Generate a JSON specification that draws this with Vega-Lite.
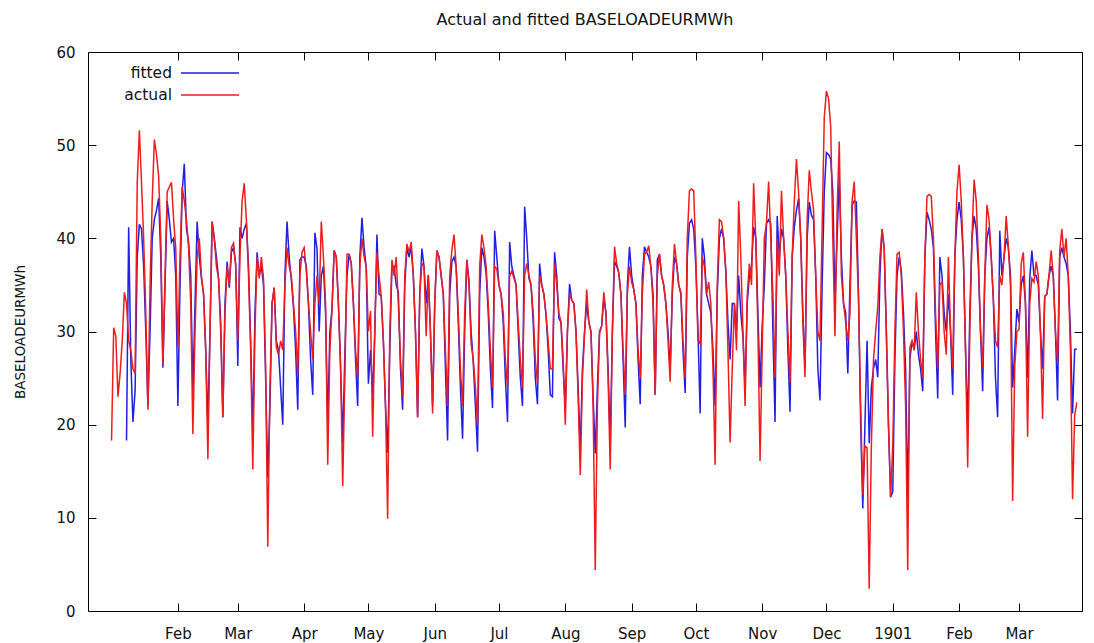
{
  "$schema": "https://vega.github.io/schema/vega-lite/v6.json",
  "width": 994,
  "height": 559,
  "autosize": {"type": "none"},
  "padding": {"left": 88, "top": 52, "right": 12, "bottom": 32},
  "background": "white",
  "config": {"view": {"stroke": "#000", "strokeWidth": 1}, "font": "DejaVu Sans"},
  "title": {"text": "Actual and fitted BASELOADEURMWh", "frame": "group", "anchor": "middle", "offset": 2, "baseline": "alphabetic", "fontSize": 16, "fontWeight": "normal", "font": "DejaVu Sans", "color": "#111"},
  "data": {"values": [
{"date":"1900-01-01","actual":18.3,"fitted":null},{"date":"1900-01-02","actual":30.4,"fitted":null},{"date":"1900-01-03","actual":29.5,"fitted":null},{"date":"1900-01-04","actual":23,"fitted":null},{"date":"1900-01-05","actual":25.5,"fitted":null},{"date":"1900-01-06","actual":29,"fitted":null},{"date":"1900-01-07","actual":34.2,"fitted":null},{"date":"1900-01-08","actual":33,"fitted":18.3},{"date":"1900-01-09","actual":29,"fitted":41.2},{"date":"1900-01-10","actual":28,"fitted":27},{"date":"1900-01-11","actual":26,"fitted":20.3},{"date":"1900-01-12","actual":25.5,"fitted":23.6},{"date":"1900-01-13","actual":46,"fitted":38},{"date":"1900-01-14","actual":51.6,"fitted":41.5},{"date":"1900-01-15","actual":46,"fitted":41},{"date":"1900-01-16","actual":40,"fitted":37},{"date":"1900-01-17","actual":32,"fitted":30},{"date":"1900-01-18","actual":21.6,"fitted":22},{"date":"1900-01-19","actual":35,"fitted":30},{"date":"1900-01-20","actual":44,"fitted":40},{"date":"1900-01-21","actual":50.6,"fitted":42},{"date":"1900-01-22","actual":49,"fitted":43},{"date":"1900-01-23","actual":46.7,"fitted":44.3},{"date":"1900-01-24","actual":40,"fitted":38},{"date":"1900-01-25","actual":26.5,"fitted":26.1},{"date":"1900-01-26","actual":36,"fitted":35},{"date":"1900-01-27","actual":45,"fitted":44},{"date":"1900-01-28","actual":45.5,"fitted":42},{"date":"1900-01-29","actual":46,"fitted":39.6},{"date":"1900-01-30","actual":42,"fitted":40},{"date":"1900-01-31","actual":38.9,"fitted":36},
{"date":"1900-02-01","actual":28.3,"fitted":22},{"date":"1900-02-02","actual":38,"fitted":35},{"date":"1900-02-03","actual":45.5,"fitted":45},{"date":"1900-02-04","actual":44,"fitted":48},{"date":"1900-02-05","actual":42,"fitted":41},{"date":"1900-02-06","actual":39,"fitted":39.6},{"date":"1900-02-07","actual":33,"fitted":36},{"date":"1900-02-08","actual":19,"fitted":23.5},{"date":"1900-02-09","actual":30,"fitted":33},{"date":"1900-02-10","actual":38,"fitted":41.8},{"date":"1900-02-11","actual":40,"fitted":38},{"date":"1900-02-12","actual":36,"fitted":35.7},{"date":"1900-02-13","actual":34,"fitted":34},{"date":"1900-02-14","actual":28,"fitted":28},{"date":"1900-02-15","actual":16.3,"fitted":20},{"date":"1900-02-16","actual":30,"fitted":30},{"date":"1900-02-17","actual":41.8,"fitted":41.8},{"date":"1900-02-18","actual":40,"fitted":40},{"date":"1900-02-19","actual":37,"fitted":38},{"date":"1900-02-20","actual":35.7,"fitted":35.7},{"date":"1900-02-21","actual":30,"fitted":31},{"date":"1900-02-22","actual":20.8,"fitted":20.8},{"date":"1900-02-23","actual":32,"fitted":33},{"date":"1900-02-24","actual":37,"fitted":37.5},{"date":"1900-02-25","actual":35,"fitted":34.7},{"date":"1900-02-26","actual":39,"fitted":38.5},{"date":"1900-02-27","actual":39.5,"fitted":39},{"date":"1900-02-28","actual":37,"fitted":37.3},
{"date":"1900-03-01","actual":29,"fitted":26.3},{"date":"1900-03-02","actual":38,"fitted":41.2},{"date":"1900-03-03","actual":44,"fitted":40},{"date":"1900-03-04","actual":45.9,"fitted":41},{"date":"1900-03-05","actual":42,"fitted":41.6},{"date":"1900-03-06","actual":36,"fitted":37},{"date":"1900-03-07","actual":28,"fitted":29},{"date":"1900-03-08","actual":15.2,"fitted":19},{"date":"1900-03-09","actual":30,"fitted":32},{"date":"1900-03-10","actual":38,"fitted":38.5},{"date":"1900-03-11","actual":35.7,"fitted":36},{"date":"1900-03-12","actual":38,"fitted":37},{"date":"1900-03-13","actual":35.7,"fitted":35},{"date":"1900-03-14","actual":26,"fitted":25},{"date":"1900-03-15","actual":6.9,"fitted":14.3},{"date":"1900-03-16","actual":24,"fitted":22},{"date":"1900-03-17","actual":33,"fitted":33},{"date":"1900-03-18","actual":34.7,"fitted":34.7},{"date":"1900-03-19","actual":28.3,"fitted":29},{"date":"1900-03-20","actual":27.5,"fitted":28},{"date":"1900-03-21","actual":29,"fitted":24},{"date":"1900-03-22","actual":28,"fitted":20},{"date":"1900-03-23","actual":35,"fitted":36},{"date":"1900-03-24","actual":39,"fitted":41.8},{"date":"1900-03-25","actual":37,"fitted":38},{"date":"1900-03-26","actual":36,"fitted":35.5},{"date":"1900-03-27","actual":33,"fitted":32.6},{"date":"1900-03-28","actual":30,"fitted":28},{"date":"1900-03-29","actual":25.5,"fitted":21.6},{"date":"1900-03-30","actual":36,"fitted":37.7},{"date":"1900-03-31","actual":38.5,"fitted":38},
{"date":"1900-04-01","actual":39,"fitted":38},{"date":"1900-04-02","actual":36.5,"fitted":37},{"date":"1900-04-03","actual":33,"fitted":33},{"date":"1900-04-04","actual":30,"fitted":27},{"date":"1900-04-05","actual":27,"fitted":23.2},{"date":"1900-04-06","actual":33,"fitted":40.6},{"date":"1900-04-07","actual":36,"fitted":38.9},{"date":"1900-04-08","actual":33,"fitted":30},{"date":"1900-04-09","actual":41.8,"fitted":36},{"date":"1900-04-10","actual":38,"fitted":37},{"date":"1900-04-11","actual":33,"fitted":32},{"date":"1900-04-12","actual":15.7,"fitted":20},{"date":"1900-04-13","actual":28,"fitted":30},{"date":"1900-04-14","actual":32.4,"fitted":32.4},{"date":"1900-04-15","actual":38.7,"fitted":38.7},{"date":"1900-04-16","actual":38,"fitted":38},{"date":"1900-04-17","actual":33,"fitted":33},{"date":"1900-04-18","actual":26.3,"fitted":26.3},{"date":"1900-04-19","actual":13.4,"fitted":18.1},{"date":"1900-04-20","actual":25,"fitted":27.5},{"date":"1900-04-21","actual":38.3,"fitted":36},{"date":"1900-04-22","actual":38.3,"fitted":38.3},{"date":"1900-04-23","actual":37.3,"fitted":37.3},{"date":"1900-04-24","actual":33,"fitted":33},{"date":"1900-04-25","actual":28,"fitted":27},{"date":"1900-04-26","actual":25,"fitted":22},{"date":"1900-04-27","actual":37,"fitted":38},{"date":"1900-04-28","actual":40,"fitted":42.2},{"date":"1900-04-29","actual":38,"fitted":39},{"date":"1900-04-30","actual":36.9,"fitted":36.9},
{"date":"1900-05-01","actual":30,"fitted":24.4},{"date":"1900-05-02","actual":32.2,"fitted":28},{"date":"1900-05-03","actual":18.7,"fitted":23.2},{"date":"1900-05-04","actual":30,"fitted":30},{"date":"1900-05-05","actual":38.5,"fitted":40.4},{"date":"1900-05-06","actual":36,"fitted":34},{"date":"1900-05-07","actual":33.8,"fitted":33.8},{"date":"1900-05-08","actual":29,"fitted":29},{"date":"1900-05-09","actual":22,"fitted":22},{"date":"1900-05-10","actual":9.9,"fitted":17},{"date":"1900-05-11","actual":30,"fitted":28},{"date":"1900-05-12","actual":37.7,"fitted":37},{"date":"1900-05-13","actual":36,"fitted":37},{"date":"1900-05-14","actual":38,"fitted":35},{"date":"1900-05-15","actual":33,"fitted":34.2},{"date":"1900-05-16","actual":27,"fitted":26},{"date":"1900-05-17","actual":23,"fitted":21.6},{"date":"1900-05-18","actual":36,"fitted":35},{"date":"1900-05-19","actual":39.4,"fitted":39},{"date":"1900-05-20","actual":38.5,"fitted":38},{"date":"1900-05-21","actual":39.6,"fitted":39},{"date":"1900-05-22","actual":36,"fitted":36},{"date":"1900-05-23","actual":30,"fitted":30},{"date":"1900-05-24","actual":20.8,"fitted":20.8},{"date":"1900-05-25","actual":34,"fitted":34},{"date":"1900-05-26","actual":37.3,"fitted":38.9},{"date":"1900-05-27","actual":37,"fitted":37},{"date":"1900-05-28","actual":29.5,"fitted":33},{"date":"1900-05-29","actual":36.1,"fitted":36},{"date":"1900-05-30","actual":30,"fitted":30},{"date":"1900-05-31","actual":21.2,"fitted":22},
{"date":"1900-06-01","actual":33,"fitted":33},{"date":"1900-06-02","actual":38.7,"fitted":38.7},{"date":"1900-06-03","actual":38,"fitted":38},{"date":"1900-06-04","actual":36,"fitted":36},{"date":"1900-06-05","actual":34,"fitted":34},{"date":"1900-06-06","actual":28,"fitted":26},{"date":"1900-06-07","actual":22,"fitted":18.3},{"date":"1900-06-08","actual":36,"fitted":34},{"date":"1900-06-09","actual":38.7,"fitted":37.5},{"date":"1900-06-10","actual":40.4,"fitted":38},{"date":"1900-06-11","actual":37,"fitted":37},{"date":"1900-06-12","actual":32,"fitted":31},{"date":"1900-06-13","actual":26,"fitted":24},{"date":"1900-06-14","actual":22,"fitted":18.5},{"date":"1900-06-15","actual":32,"fitted":30},{"date":"1900-06-16","actual":37.7,"fitted":37.7},{"date":"1900-06-17","actual":35,"fitted":35.5},{"date":"1900-06-18","actual":28.7,"fitted":30},{"date":"1900-06-19","actual":27,"fitted":26.7},{"date":"1900-06-20","actual":24,"fitted":22},{"date":"1900-06-21","actual":20,"fitted":17.1},{"date":"1900-06-22","actual":37,"fitted":34},{"date":"1900-06-23","actual":40.4,"fitted":39},{"date":"1900-06-24","actual":39,"fitted":38},{"date":"1900-06-25","actual":37,"fitted":36.3},{"date":"1900-06-26","actual":33,"fitted":32},{"date":"1900-06-27","actual":28,"fitted":26},{"date":"1900-06-28","actual":24,"fitted":21.8},{"date":"1900-06-29","actual":37,"fitted":40.8},{"date":"1900-06-30","actual":36.7,"fitted":38},
{"date":"1900-07-01","actual":35,"fitted":35},{"date":"1900-07-02","actual":34,"fitted":34},{"date":"1900-07-03","actual":32,"fitted":31},{"date":"1900-07-04","actual":27,"fitted":25},{"date":"1900-07-05","actual":24,"fitted":20.3},{"date":"1900-07-06","actual":36,"fitted":39.6},{"date":"1900-07-07","actual":36.5,"fitted":37},{"date":"1900-07-08","actual":35.7,"fitted":36},{"date":"1900-07-09","actual":35,"fitted":35},{"date":"1900-07-10","actual":31,"fitted":30},{"date":"1900-07-11","actual":27,"fitted":25},{"date":"1900-07-12","actual":24,"fitted":22},{"date":"1900-07-13","actual":36,"fitted":43.4},{"date":"1900-07-14","actual":37.3,"fitted":40},{"date":"1900-07-15","actual":36,"fitted":35.7},{"date":"1900-07-16","actual":35,"fitted":35},{"date":"1900-07-17","actual":32,"fitted":31},{"date":"1900-07-18","actual":27,"fitted":25},{"date":"1900-07-19","actual":24.4,"fitted":22.2},{"date":"1900-07-20","actual":36,"fitted":37.3},{"date":"1900-07-21","actual":35,"fitted":35},{"date":"1900-07-22","actual":34,"fitted":34},{"date":"1900-07-23","actual":31.8,"fitted":31.8},{"date":"1900-07-24","actual":29,"fitted":28},{"date":"1900-07-25","actual":26,"fitted":23.2},{"date":"1900-07-26","actual":26,"fitted":23},{"date":"1900-07-27","actual":37.3,"fitted":38.5},{"date":"1900-07-28","actual":35,"fitted":36},{"date":"1900-07-29","actual":32,"fitted":31.4},{"date":"1900-07-30","actual":31,"fitted":31},{"date":"1900-07-31","actual":27,"fitted":26},
{"date":"1900-08-01","actual":20,"fitted":22},{"date":"1900-08-02","actual":30,"fitted":30},{"date":"1900-08-03","actual":34,"fitted":35.1},{"date":"1900-08-04","actual":33.4,"fitted":33.4},{"date":"1900-08-05","actual":33,"fitted":33},{"date":"1900-08-06","actual":30,"fitted":30},{"date":"1900-08-07","actual":23,"fitted":24},{"date":"1900-08-08","actual":14.6,"fitted":17},{"date":"1900-08-09","actual":25,"fitted":26},{"date":"1900-08-10","actual":29.8,"fitted":30},{"date":"1900-08-11","actual":34.5,"fitted":33},{"date":"1900-08-12","actual":31,"fitted":31},{"date":"1900-08-13","actual":30,"fitted":30},{"date":"1900-08-14","actual":22,"fitted":23},{"date":"1900-08-15","actual":4.4,"fitted":16.9},{"date":"1900-08-16","actual":22,"fitted":24},{"date":"1900-08-17","actual":29.8,"fitted":30},{"date":"1900-08-18","actual":30.6,"fitted":30.6},{"date":"1900-08-19","actual":34.2,"fitted":33.5},{"date":"1900-08-20","actual":32,"fitted":32},{"date":"1900-08-21","actual":25,"fitted":26},{"date":"1900-08-22","actual":15.2,"fitted":18},{"date":"1900-08-23","actual":30,"fitted":30},{"date":"1900-08-24","actual":39.1,"fitted":37.5},{"date":"1900-08-25","actual":37.3,"fitted":37},{"date":"1900-08-26","actual":36.3,"fitted":36.3},{"date":"1900-08-27","actual":34,"fitted":34},{"date":"1900-08-28","actual":28,"fitted":27},{"date":"1900-08-29","actual":23.2,"fitted":19.7},{"date":"1900-08-30","actual":34,"fitted":35},{"date":"1900-08-31","actual":37,"fitted":39.1},
{"date":"1900-09-01","actual":35.3,"fitted":36},{"date":"1900-09-02","actual":34.5,"fitted":34.5},{"date":"1900-09-03","actual":33,"fitted":33},{"date":"1900-09-04","actual":28,"fitted":27},{"date":"1900-09-05","actual":25,"fitted":22.2},{"date":"1900-09-06","actual":34,"fitted":36},{"date":"1900-09-07","actual":38.3,"fitted":39.1},{"date":"1900-09-08","actual":38.5,"fitted":38.5},{"date":"1900-09-09","actual":39.2,"fitted":38},{"date":"1900-09-10","actual":36.9,"fitted":37},{"date":"1900-09-11","actual":33,"fitted":34},{"date":"1900-09-12","actual":23.2,"fitted":23.2},{"date":"1900-09-13","actual":36,"fitted":37.7},{"date":"1900-09-14","actual":38.3,"fitted":38.3},{"date":"1900-09-15","actual":36,"fitted":36},{"date":"1900-09-16","actual":34.9,"fitted":35},{"date":"1900-09-17","actual":33,"fitted":33},{"date":"1900-09-18","actual":29,"fitted":30},{"date":"1900-09-19","actual":24.6,"fitted":26},{"date":"1900-09-20","actual":35,"fitted":34},{"date":"1900-09-21","actual":39.4,"fitted":38},{"date":"1900-09-22","actual":37.3,"fitted":37.3},{"date":"1900-09-23","actual":35,"fitted":35},{"date":"1900-09-24","actual":34.2,"fitted":34},{"date":"1900-09-25","actual":29,"fitted":28},{"date":"1900-09-26","actual":25,"fitted":23.4},{"date":"1900-09-27","actual":40,"fitted":38},{"date":"1900-09-28","actual":45.1,"fitted":41.6},{"date":"1900-09-29","actual":45.3,"fitted":42},{"date":"1900-09-30","actual":45.1,"fitted":41},
{"date":"1900-10-01","actual":38,"fitted":37},{"date":"1900-10-02","actual":29,"fitted":30},{"date":"1900-10-03","actual":28.7,"fitted":21.2},{"date":"1900-10-04","actual":38,"fitted":40},{"date":"1900-10-05","actual":37,"fitted":38},{"date":"1900-10-06","actual":34,"fitted":34},{"date":"1900-10-07","actual":35.3,"fitted":33},{"date":"1900-10-08","actual":33,"fitted":32},{"date":"1900-10-09","actual":26,"fitted":28},{"date":"1900-10-10","actual":15.7,"fitted":22},{"date":"1900-10-11","actual":35,"fitted":34},{"date":"1900-10-12","actual":42,"fitted":40},{"date":"1900-10-13","actual":41.8,"fitted":41},{"date":"1900-10-14","actual":40,"fitted":40},{"date":"1900-10-15","actual":36.5,"fitted":36.5},{"date":"1900-10-16","actual":28,"fitted":31},{"date":"1900-10-17","actual":18.1,"fitted":27},{"date":"1900-10-18","actual":26,"fitted":33},{"date":"1900-10-19","actual":33,"fitted":33},{"date":"1900-10-20","actual":28,"fitted":30},{"date":"1900-10-21","actual":44,"fitted":36},{"date":"1900-10-22","actual":38,"fitted":32},{"date":"1900-10-23","actual":30,"fitted":29.5},{"date":"1900-10-24","actual":22,"fitted":24},{"date":"1900-10-25","actual":33.8,"fitted":33},{"date":"1900-10-26","actual":37.3,"fitted":36},{"date":"1900-10-27","actual":35,"fitted":37},{"date":"1900-10-28","actual":45.9,"fitted":41.2},{"date":"1900-10-29","actual":40,"fitted":40},{"date":"1900-10-30","actual":30,"fitted":32},{"date":"1900-10-31","actual":16.1,"fitted":24},
{"date":"1900-11-01","actual":28,"fitted":30.6},{"date":"1900-11-02","actual":40,"fitted":35},{"date":"1900-11-03","actual":41.6,"fitted":41.6},{"date":"1900-11-04","actual":46.1,"fitted":42},{"date":"1900-11-05","actual":40,"fitted":41.6},{"date":"1900-11-06","actual":34,"fitted":30},{"date":"1900-11-07","actual":25,"fitted":20.3},{"date":"1900-11-08","actual":40,"fitted":42.4},{"date":"1900-11-09","actual":36,"fitted":38},{"date":"1900-11-10","actual":45.1,"fitted":41},{"date":"1900-11-11","actual":40,"fitted":40},{"date":"1900-11-12","actual":36,"fitted":36},{"date":"1900-11-13","actual":30,"fitted":28},{"date":"1900-11-14","actual":24.5,"fitted":21.4},{"date":"1900-11-15","actual":38,"fitted":38},{"date":"1900-11-16","actual":44,"fitted":41.2},{"date":"1900-11-17","actual":48.5,"fitted":43},{"date":"1900-11-18","actual":45,"fitted":44.3},{"date":"1900-11-19","actual":40,"fitted":40},{"date":"1900-11-20","actual":31,"fitted":32},{"date":"1900-11-21","actual":25.1,"fitted":26},{"date":"1900-11-22","actual":42,"fitted":40},{"date":"1900-11-23","actual":47.3,"fitted":43.9},{"date":"1900-11-24","actual":45,"fitted":42.5},{"date":"1900-11-25","actual":43,"fitted":42},{"date":"1900-11-26","actual":36,"fitted":36},{"date":"1900-11-27","actual":30,"fitted":26},{"date":"1900-11-28","actual":29,"fitted":22.6},{"date":"1900-11-29","actual":41,"fitted":35},{"date":"1900-11-30","actual":53,"fitted":45},
{"date":"1900-12-01","actual":55.8,"fitted":49.2},{"date":"1900-12-02","actual":55,"fitted":49},{"date":"1900-12-03","actual":52,"fitted":48.5},{"date":"1900-12-04","actual":40,"fitted":45},{"date":"1900-12-05","actual":29.5,"fitted":33},{"date":"1900-12-06","actual":43,"fitted":40},{"date":"1900-12-07","actual":50.4,"fitted":46.7},{"date":"1900-12-08","actual":36,"fitted":38},{"date":"1900-12-09","actual":33,"fitted":33},{"date":"1900-12-10","actual":31,"fitted":32},{"date":"1900-12-11","actual":29,"fitted":25.5},{"date":"1900-12-12","actual":32,"fitted":35},{"date":"1900-12-13","actual":44,"fitted":43.6},{"date":"1900-12-14","actual":46.1,"fitted":44},{"date":"1900-12-15","actual":40,"fitted":43.9},{"date":"1900-12-16","actual":33.4,"fitted":34},{"date":"1900-12-17","actual":22,"fitted":20},{"date":"1900-12-18","actual":12.5,"fitted":11},{"date":"1900-12-19","actual":17.7,"fitted":20},{"date":"1900-12-20","actual":17.5,"fitted":29},{"date":"1900-12-21","actual":2.4,"fitted":18},{"date":"1900-12-22","actual":17.7,"fitted":24},{"date":"1900-12-23","actual":27,"fitted":26},{"date":"1900-12-24","actual":30,"fitted":27},{"date":"1900-12-25","actual":32.6,"fitted":25.1},{"date":"1900-12-26","actual":38,"fitted":36},{"date":"1900-12-27","actual":41,"fitted":41},{"date":"1900-12-28","actual":38.9,"fitted":38.9},{"date":"1900-12-29","actual":30,"fitted":30},{"date":"1900-12-30","actual":20,"fitted":20},{"date":"1900-12-31","actual":12.2,"fitted":12.2},
{"date":"1901-01-01","actual":17.7,"fitted":12.8},{"date":"1901-01-02","actual":30,"fitted":27},{"date":"1901-01-03","actual":38.3,"fitted":36},{"date":"1901-01-04","actual":38.5,"fitted":38},{"date":"1901-01-05","actual":36,"fitted":36.5},{"date":"1901-01-06","actual":30,"fitted":32},{"date":"1901-01-07","actual":22,"fitted":26},{"date":"1901-01-08","actual":4.4,"fitted":12},{"date":"1901-01-09","actual":28.3,"fitted":27},{"date":"1901-01-10","actual":29,"fitted":29},{"date":"1901-01-11","actual":28,"fitted":28},{"date":"1901-01-12","actual":34.2,"fitted":30},{"date":"1901-01-13","actual":30,"fitted":27.5},{"date":"1901-01-14","actual":27,"fitted":26},{"date":"1901-01-15","actual":25,"fitted":23.6},{"date":"1901-01-16","actual":38,"fitted":38},{"date":"1901-01-17","actual":44.5,"fitted":42.8},{"date":"1901-01-18","actual":44.7,"fitted":42},{"date":"1901-01-19","actual":44.5,"fitted":41},{"date":"1901-01-20","actual":40,"fitted":39},{"date":"1901-01-21","actual":32,"fitted":30},{"date":"1901-01-22","actual":26,"fitted":22.8},{"date":"1901-01-23","actual":35,"fitted":38},{"date":"1901-01-24","actual":35.3,"fitted":36},{"date":"1901-01-25","actual":30,"fitted":32},{"date":"1901-01-26","actual":27.5,"fitted":30},{"date":"1901-01-27","actual":38,"fitted":34},{"date":"1901-01-28","actual":30,"fitted":30},{"date":"1901-01-29","actual":26,"fitted":23.2},{"date":"1901-01-30","actual":38,"fitted":38},{"date":"1901-01-31","actual":45,"fitted":42},
{"date":"1901-02-01","actual":47.9,"fitted":43.9},{"date":"1901-02-02","actual":44,"fitted":42},{"date":"1901-02-03","actual":38,"fitted":38},{"date":"1901-02-04","actual":28,"fitted":28},{"date":"1901-02-05","actual":15.4,"fitted":20},{"date":"1901-02-06","actual":30,"fitted":32},{"date":"1901-02-07","actual":40,"fitted":40},{"date":"1901-02-08","actual":46.3,"fitted":42.4},{"date":"1901-02-09","actual":44,"fitted":41},{"date":"1901-02-10","actual":38,"fitted":37},{"date":"1901-02-11","actual":30,"fitted":30},{"date":"1901-02-12","actual":26,"fitted":23.6},{"date":"1901-02-13","actual":36,"fitted":36},{"date":"1901-02-14","actual":43.6,"fitted":40},{"date":"1901-02-15","actual":42,"fitted":41.2},{"date":"1901-02-16","actual":38,"fitted":38},{"date":"1901-02-17","actual":33.4,"fitted":33.4},{"date":"1901-02-18","actual":29,"fitted":25},{"date":"1901-02-19","actual":28.3,"fitted":20.8},{"date":"1901-02-20","actual":36,"fitted":40.8},{"date":"1901-02-21","actual":35,"fitted":36},{"date":"1901-02-22","actual":38,"fitted":38},{"date":"1901-02-23","actual":42.4,"fitted":40},{"date":"1901-02-24","actual":39.2,"fitted":39},{"date":"1901-02-25","actual":35,"fitted":36},{"date":"1901-02-26","actual":11.8,"fitted":24},{"date":"1901-02-27","actual":26.3,"fitted":28},{"date":"1901-02-28","actual":30,"fitted":32.4},
{"date":"1901-03-01","actual":30.2,"fitted":31},{"date":"1901-03-02","actual":37.3,"fitted":35},{"date":"1901-03-03","actual":38.5,"fitted":36},{"date":"1901-03-04","actual":33,"fitted":33},{"date":"1901-03-05","actual":18.7,"fitted":25},{"date":"1901-03-06","actual":33,"fitted":35.7},{"date":"1901-03-07","actual":35.7,"fitted":38.7},{"date":"1901-03-08","actual":35.3,"fitted":36},{"date":"1901-03-09","actual":37.5,"fitted":36},{"date":"1901-03-10","actual":36,"fitted":35},{"date":"1901-03-11","actual":30,"fitted":30},{"date":"1901-03-12","actual":20.6,"fitted":26},{"date":"1901-03-13","actual":33.8,"fitted":33.8},{"date":"1901-03-14","actual":34,"fitted":34},{"date":"1901-03-15","actual":36,"fitted":36},{"date":"1901-03-16","actual":38.7,"fitted":37},{"date":"1901-03-17","actual":36,"fitted":36},{"date":"1901-03-18","actual":30,"fitted":30},{"date":"1901-03-19","actual":26.7,"fitted":22.6},{"date":"1901-03-20","actual":38.7,"fitted":38},{"date":"1901-03-21","actual":41,"fitted":39},{"date":"1901-03-22","actual":38,"fitted":38},{"date":"1901-03-23","actual":40,"fitted":37.3},{"date":"1901-03-24","actual":36,"fitted":36},{"date":"1901-03-25","actual":28,"fitted":30},{"date":"1901-03-26","actual":12,"fitted":21.2},{"date":"1901-03-27","actual":21,"fitted":28.1},{"date":"1901-03-28","actual":22.4,"fitted":28.1}
  ]},
  "layer": [
    {
      "mark": {"type": "line", "strokeWidth": 1.5},
      "encoding": {
        "x": {
          "field": "date", "type": "temporal",
          "scale": {"type": "utc", "domain": [{"year": 1899, "month": 12, "date": 21, "utc": true}, {"year": 1901, "month": 3, "date": 30, "hours": 10, "utc": true}]},
          "axis": {
            "orient": "bottom",
            "values": [{"year":1900,"month":2,"date":1,"utc":true},{"year":1900,"month":3,"date":1,"utc":true},{"year":1900,"month":4,"date":1,"utc":true},{"year":1900,"month":5,"date":1,"utc":true},{"year":1900,"month":6,"date":1,"utc":true},{"year":1900,"month":7,"date":1,"utc":true},{"year":1900,"month":8,"date":1,"utc":true},{"year":1900,"month":9,"date":1,"utc":true},{"year":1900,"month":10,"date":1,"utc":true},{"year":1900,"month":11,"date":1,"utc":true},{"year":1900,"month":12,"date":1,"utc":true},{"year":1901,"month":1,"date":1,"utc":true},{"year":1901,"month":2,"date":1,"utc":true},{"year":1901,"month":3,"date":1,"utc":true}],
            "labelExpr": "utcmonth(datum.value) === 0 ? utcFormat(datum.value, '%Y') : utcFormat(datum.value, '%b')",
            "title": null, "grid": false, "domain": false,
            "tickSize": -8, "tickColor": "#000", "tickWidth": 1,
            "labelFont": "DejaVu Sans", "labelFontSize": 15, "labelColor": "#111",
            "labelPadding": 23, "labelBaseline": "top", "labelFlush": false, "labelOverlap": false
          }
        },
        "y": {
          "field": "fitted", "type": "quantitative",
          "scale": {"domain": [0, 60], "nice": false},
          "axis": {
            "orient": "left",
            "values": [0, 10, 20, 30, 40, 50, 60],
            "grid": false, "domain": false,
            "tickSize": -8, "tickColor": "#000", "tickWidth": 1,
            "labelFont": "DejaVu Sans", "labelFontSize": 15, "labelColor": "#111",
            "labelPadding": 21, "labelFlush": false,
            "title": "BASELOADEURMWh", "titleFont": "DejaVu Sans", "titleFontSize": 13.5, "titleFontWeight": "normal", "titleColor": "#111",
            "titleAngle": -90, "titleX": -68, "titleY": 279.5, "titleAlign": "center", "titleBaseline": "middle"
          }
        },
        "stroke": {
          "datum": "fitted", "type": "nominal",
          "scale": {"domain": ["fitted"], "range": ["#1f1fe6"]},
          "legend": {
            "orient": "none", "legendX": 92, "legendY": -9, "title": null, "padding": 0,
            "symbolType": "stroke", "symbolSize": 3364, "symbolStrokeWidth": 1.4,
            "labelAlign": "right", "labelOffset": -68,
            "labelFont": "DejaVu Sans", "labelFontSize": 15.5, "labelColor": "#111"
          }
        }
      }
    },
    {
      "mark": {"type": "line", "strokeWidth": 1.5},
      "encoding": {
        "x": {"field": "date", "type": "temporal", "axis": null},
        "y": {"field": "actual", "type": "quantitative", "axis": null},
        "color": {
          "datum": "actual", "type": "nominal",
          "scale": {"domain": ["actual"], "range": ["#f01c1c"]},
          "legend": {
            "orient": "none", "legendX": 92, "legendY": 13, "title": null, "padding": 0,
            "symbolType": "stroke", "symbolSize": 3364, "symbolStrokeWidth": 1.4,
            "labelAlign": "right", "labelOffset": -68,
            "labelFont": "DejaVu Sans", "labelFontSize": 15.5, "labelColor": "#111"
          }
        }
      }
    },
    {
      "mark": {"type": "line", "opacity": 0},
      "encoding": {
        "x": {
          "field": "date", "type": "temporal",
          "axis": {
            "orient": "top", "labels": false, "title": null, "grid": false, "domain": false,
            "tickSize": -8, "tickColor": "#000", "tickWidth": 1,
            "values": [{"year":1900,"month":2,"date":1,"utc":true},{"year":1900,"month":3,"date":1,"utc":true},{"year":1900,"month":4,"date":1,"utc":true},{"year":1900,"month":5,"date":1,"utc":true},{"year":1900,"month":6,"date":1,"utc":true},{"year":1900,"month":7,"date":1,"utc":true},{"year":1900,"month":8,"date":1,"utc":true},{"year":1900,"month":9,"date":1,"utc":true},{"year":1900,"month":10,"date":1,"utc":true},{"year":1900,"month":11,"date":1,"utc":true},{"year":1900,"month":12,"date":1,"utc":true},{"year":1901,"month":1,"date":1,"utc":true},{"year":1901,"month":2,"date":1,"utc":true},{"year":1901,"month":3,"date":1,"utc":true}]
          }
        },
        "y": {
          "field": "actual", "type": "quantitative",
          "axis": {
            "orient": "right", "labels": false, "title": null, "grid": false, "domain": false,
            "tickSize": -8, "tickColor": "#000", "tickWidth": 1,
            "values": [0, 10, 20, 30, 40, 50, 60]
          }
        }
      }
    }
  ],
  "resolve": {"axis": {"x": "independent", "y": "independent"}}
}
